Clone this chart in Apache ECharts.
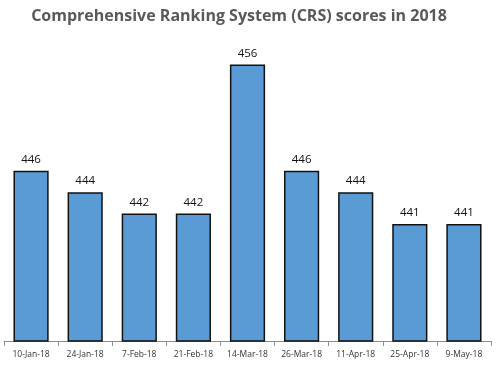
<!DOCTYPE html>
<html><head><meta charset="utf-8">
<script src="https://cdn.jsdelivr.net/npm/echarts@6/dist/echarts.min.js"></script>
<style>html,body{margin:0;padding:0;background:#fff}#c{width:500px;height:368px}</style>
</head><body><div id="c"></div>
<script>
const categories = ['10-Jan-18','24-Jan-18','7-Feb-18','21-Feb-18','14-Mar-18','26-Mar-18','11-Apr-18','25-Apr-18','9-May-18'];
const scores = [446,444,442,442,456,446,444,441,441];
const titleText = 'Comprehensive Ranking System (CRS) scores in 2018';

const chart = echarts.init(document.getElementById('c'));
chart.setOption({
  animation: false,
  title: {
    text: titleText, left: 234, top: 3, textAlign: 'center',
    textStyle: {fontFamily: 'Open Sans', fontWeight: 'bold', fontSize: 16, color: '#595959'}
  },
  grid: {left: 4, right: 9, top: 22, bottom: 27},
  xAxis: {
    type: 'category', data: categories,
    axisLine: {lineStyle: {color: '#8c8c8c'}},
    axisTick: {show: true, alignWithLabel: false, length: 5, lineStyle: {color: '#8c8c8c'}},
    axisLabel: {interval: 0, color: '#333', fontFamily: 'Open Sans', fontSize: 8.5, margin: 9}
  },
  yAxis: {type: 'value', min: 430, max: 460, show: false, splitLine: {show: false}},
  series: [{
    type: 'bar', data: scores, barCategoryGap: '35%',
    itemStyle: {color: '#5b9bd5', borderColor: '#111', borderWidth: 1.5},
    label: {show: true, position: 'top', distance: 5, color: '#111', fontFamily: 'Open Sans', fontSize: 11.5}
  }]
});
</script></body></html>
